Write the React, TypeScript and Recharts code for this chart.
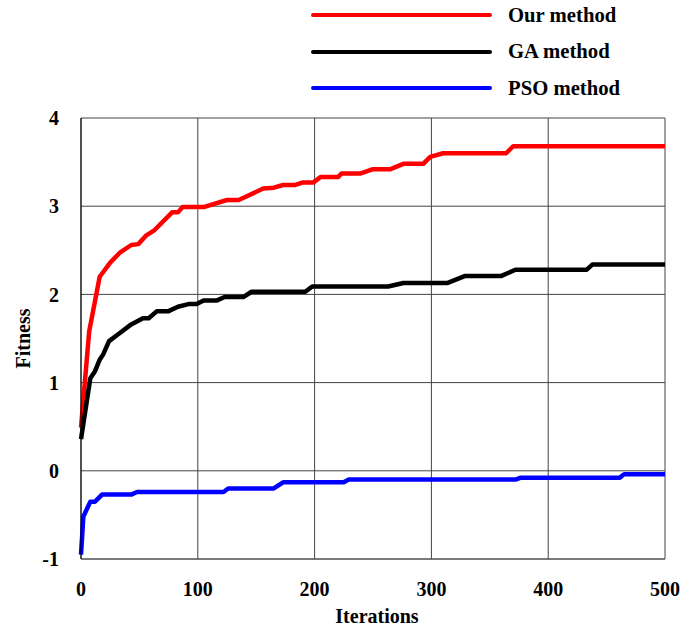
import React from 'react';
import { LineChart, Line, XAxis, YAxis, CartesianGrid, Label } from 'recharts';

// iteration / fitness pairs
const ourIter = [0, 7, 16, 25, 33, 43, 49, 56, 63, 78, 83, 87, 105, 125, 135, 156, 165, 173, 183, 190, 199, 205, 220, 223, 239, 250, 265, 276, 293, 299, 310, 364, 370, 500];
const ourFit = [0.49, 1.58, 2.2, 2.36, 2.47, 2.56, 2.57, 2.67, 2.73, 2.93, 2.93, 2.99, 2.99, 3.07, 3.07, 3.2, 3.21, 3.24, 3.24, 3.27, 3.27, 3.33, 3.33, 3.37, 3.37, 3.42, 3.42, 3.48, 3.48, 3.56, 3.6, 3.6, 3.68, 3.68];

const gaIter = [0, 8, 12, 16, 19, 24, 33, 43, 53, 58, 65, 75, 83, 92, 99, 105, 116, 123, 139, 146, 192, 198, 263, 276, 314, 329, 360, 372, 433, 438, 500];
const gaFit = [0.36, 1.05, 1.13, 1.26, 1.32, 1.47, 1.56, 1.66, 1.73, 1.73, 1.81, 1.81, 1.86, 1.89, 1.89, 1.93, 1.93, 1.97, 1.97, 2.03, 2.03, 2.09, 2.09, 2.13, 2.13, 2.21, 2.21, 2.28, 2.28, 2.34, 2.34];

const psoIter = [0, 2, 8, 12, 18, 43, 48, 122, 126, 165, 173, 225, 229, 372, 376, 461, 465, 500];
const psoFit = [-0.95, -0.52, -0.35, -0.35, -0.27, -0.27, -0.24, -0.24, -0.2, -0.2, -0.13, -0.13, -0.1, -0.1, -0.08, -0.08, -0.04, -0.04];

const xTicks = [0, 100, 200, 300, 400, 500];
const yTicks = [-1, 0, 1, 2, 3, 4];

const toPoints = (xs: number[], ys: number[]) => xs.map((x, i) => ({ x, y: ys[i] }));

const series = [
  { name: 'Our method', color: '#ff0000', data: toPoints(ourIter, ourFit) },
  { name: 'GA method', color: '#000000', data: toPoints(gaIter, gaFit) },
  { name: 'PSO method', color: '#0000ff', data: toPoints(psoIter, psoFit) },
];

const FONT = "'Liberation Serif', 'Times New Roman', serif";
const tickStyle = { fill: '#000', fontSize: 20, fontWeight: 'bold', fontFamily: FONT };

const App = () => {
  return (
    <div style={{ position: 'absolute', left: 0, top: 0, width: 681, height: 627, background: '#fff' }}>
      <LineChart width={681} height={627} margin={{ top: 118, right: 16, bottom: 0, left: 0 }}>
        <CartesianGrid stroke="#444" strokeWidth={1} />
        <XAxis
          type="number"
          dataKey="x"
          domain={[0, 500]}
          ticks={xTicks}
          height={68}
          tickSize={0}
          tickMargin={23}
          tick={tickStyle}
          axisLine={{ stroke: '#555' }}
        >
          <Label
            content={(props: any) => {
              const vb = props.viewBox;
              return (
                <text x={vb.x + vb.width / 2 + 4} y={vb.y + 64} textAnchor="middle"
                  style={{ fontSize: 20, fontWeight: 'bold', fontFamily: FONT }} fill="#000">
                  Iterations
                </text>
              );
            }}
          />
        </XAxis>
        <YAxis
          type="number"
          domain={[-1, 4]}
          ticks={yTicks}
          width={81}
          tickSize={0}
          tickMargin={22}
          tick={tickStyle}
          axisLine={{ stroke: '#000' }}
        >
          <Label
            content={(props: any) => {
              const vb = props.viewBox;
              const cx = vb.x + 23;
              const cy = vb.y + vb.height / 2;
              return (
                <text x={cx} y={cy} textAnchor="middle" dominantBaseline="central"
                  transform={`rotate(-90 ${cx} ${cy})`}
                  style={{ fontSize: 20, fontWeight: 'bold', fontFamily: FONT }} fill="#000">
                  Fitness
                </text>
              );
            }}
          />
        </YAxis>
        {series.map((s) => (
          <Line
            key={s.name}
            data={s.data}
            dataKey="y"
            name={s.name}
            type="linear"
            stroke={s.color}
            strokeWidth={4.5}
            strokeLinejoin="round"
            dot={false}
            isAnimationActive={false}
          />
        ))}
      </LineChart>
      <div style={{ position: 'absolute', left: 310, top: 0 }}>
        {series.map((s, i) => (
          <div key={s.name} style={{ position: 'absolute', left: 0, top: i * 36.6, width: 360, height: 30, display: 'flex', alignItems: 'center' }}>
            <svg width={186} height={30}>
              <line x1={3} y1={15} x2={180} y2={15} stroke={s.color} strokeWidth={4} strokeLinecap="round" />
            </svg>
            <span style={{ marginLeft: 12, fontSize: 20.7, fontWeight: 'bold', fontFamily: FONT, color: '#000', whiteSpace: 'nowrap' }}>
              {s.name}
            </span>
          </div>
        ))}
      </div>
    </div>
  );
};

export default App;
